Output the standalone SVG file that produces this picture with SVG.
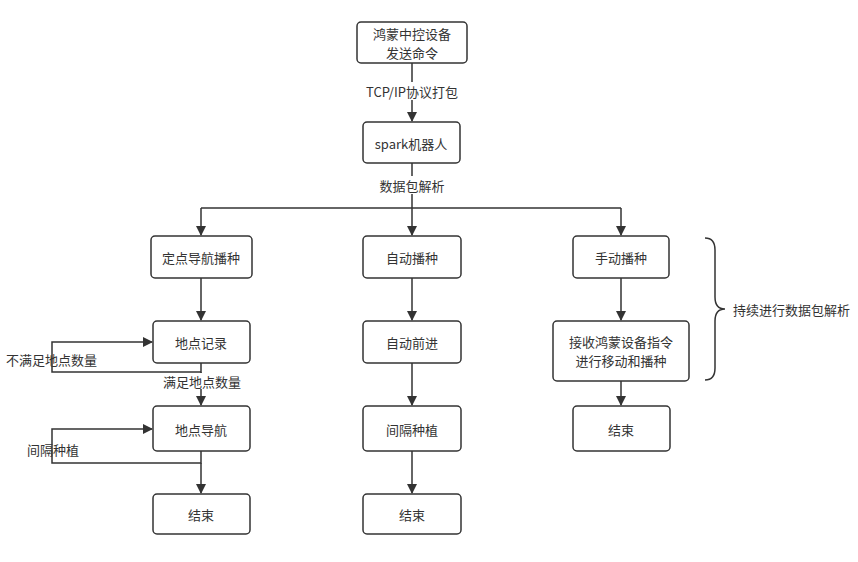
<svg xmlns="http://www.w3.org/2000/svg" width="858" height="562" viewBox="0 0 858 562">
<defs>
<marker id="arr" viewBox="0 0 10 10" refX="9" refY="5" markerWidth="10" markerHeight="10" markerUnits="userSpaceOnUse" orient="auto">
<path d="M0,0 L10,5 L0,10 Z" fill="#333"/>
</marker>
<style>
.box{fill:#fff;stroke:#333;stroke-width:1.5}
.t{font-family:"Noto Sans CJK SC","Liberation Sans",sans-serif;font-size:13px;fill:#333;text-anchor:middle;dominant-baseline:central}
.lbl{font-family:"Noto Sans CJK SC","Liberation Sans",sans-serif;font-size:13px;fill:#333;dominant-baseline:central}
.ln{fill:none;stroke:#333;stroke-width:1.5}
</style>
</defs>
<rect width="858" height="562" fill="#fff"/>
<g id="connectors">
<path class="ln" d="M412,63 V121" marker-end="url(#arr)"/>
<path class="ln" d="M412,163 V208"/>
<path class="ln" d="M201,208 H621"/>
<path class="ln" d="M201,208 V235" marker-end="url(#arr)"/>
<path class="ln" d="M412,208 V235" marker-end="url(#arr)"/>
<path class="ln" d="M621,208 V235" marker-end="url(#arr)"/>
<path class="ln" d="M201,278 V320" marker-end="url(#arr)"/>
<path class="ln" d="M201,363 V372 H52 V342 H152" marker-end="url(#arr)"/>
<path class="ln" d="M201,372 V405" marker-end="url(#arr)"/>
<path class="ln" d="M201,451 V463 H52 V429 H152" marker-end="url(#arr)"/>
<path class="ln" d="M201,463 V493" marker-end="url(#arr)"/>
<path class="ln" d="M412,278 V320" marker-end="url(#arr)"/>
<path class="ln" d="M412,363 V405" marker-end="url(#arr)"/>
<path class="ln" d="M412,451 V493" marker-end="url(#arr)"/>
<path class="ln" d="M621,278 V320" marker-end="url(#arr)"/>
<path class="ln" d="M621,381 V405" marker-end="url(#arr)"/>
<rect x="364" y="82" width="96" height="18" fill="#fff"/>
<text class="t" x="412" y="91">TCP/IP协议打包</text>
<rect x="376" y="176" width="72" height="18" fill="#fff"/>
<text class="t" x="412" y="185">数据包解析</text>
<text class="lbl" x="6" y="359">不满足地点数量</text>
<rect x="160" y="373" width="84" height="16" fill="#fff"/>
<text class="t" x="202" y="381">满足地点数量</text>
<text class="lbl" x="27" y="449">间隔种植</text>
<path class="ln" d="M705,238 Q715,238 715,250 V297 Q715,309 725,309 Q715,309 715,321 V368 Q715,380 705,380"/>
<text class="lbl" x="733" y="309">持续进行数据包解析</text>
</g>
<g id="n1"><rect class="box" x="357" y="22" width="110" height="41" rx="4"/><text class="t" x="412" y="33.5">鸿蒙中控设备</text><text class="t" x="412" y="52.5">发送命令</text></g>
<g id="n2"><rect class="box" x="363" y="122" width="97" height="41" rx="4"/><text class="t" x="411" y="143">spark机器人</text></g>
<g id="n3"><rect class="box" x="151" y="236" width="101" height="42" rx="4"/><text class="t" x="201" y="257">定点导航播种</text></g>
<g id="n4"><rect class="box" x="153" y="321" width="97" height="42" rx="4"/><text class="t" x="201" y="342">地点记录</text></g>
<g id="n5"><rect class="box" x="153" y="406" width="97" height="45" rx="4"/><text class="t" x="201" y="429">地点导航</text></g>
<g id="n6"><rect class="box" x="153" y="494" width="97" height="40" rx="4"/><text class="t" x="201" y="514">结束</text></g>
<g id="n7"><rect class="box" x="363" y="236" width="98" height="42" rx="4"/><text class="t" x="412" y="257">自动播种</text></g>
<g id="n8"><rect class="box" x="363" y="321" width="98" height="42" rx="4"/><text class="t" x="412" y="342">自动前进</text></g>
<g id="n9"><rect class="box" x="363" y="406" width="98" height="45" rx="4"/><text class="t" x="412" y="429">间隔种植</text></g>
<g id="n10"><rect class="box" x="363" y="494" width="98" height="40" rx="4"/><text class="t" x="412" y="514">结束</text></g>
<g id="n11"><rect class="box" x="573" y="236" width="96" height="42" rx="4"/><text class="t" x="621" y="257">手动播种</text></g>
<g id="n12"><rect class="box" x="553" y="321" width="136" height="60" rx="4"/><text class="t" x="621" y="341.5">接收鸿蒙设备指令</text><text class="t" x="621" y="360.5">进行移动和播种</text></g>
<g id="n13"><rect class="box" x="573" y="406" width="97" height="45" rx="4"/><text class="t" x="621" y="429">结束</text></g>
</svg>
